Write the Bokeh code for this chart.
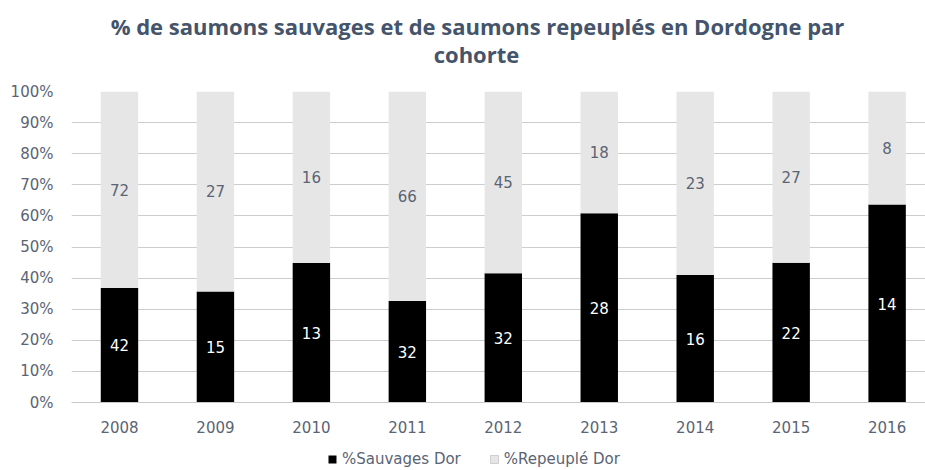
from bokeh.plotting import figure
from bokeh.layouts import column
from bokeh.models import ColumnDataSource, Range1d, Legend, LegendItem, FixedTicker
from bokeh.core.properties import value
from bokeh.embed import file_html
from bokeh.resources import INLINE

years = ["2008", "2009", "2010", "2011", "2012", "2013", "2014", "2015", "2016"]
sauvages = [42, 15, 13, 32, 32, 28, 16, 22, 14]
repeuples = [72, 27, 16, 66, 45, 18, 23, 27, 8]
y_ticks = [0, 10, 20, 30, 40, 50, 60, 70, 80, 90, 100]
title_lines = ["% de saumons sauvages et de saumons repeuplés en Dordogne par", "cohorte"]
series_names = ["%Sauvages Dor", "%Repeuplé Dor"]
colors = ["#000000", "#e6e6e6"]

xs = list(range(len(years)))
pct_s = [s / (s + r) * 100 for s, r in zip(sauvages, repeuples)]
pct_r = [100 - p for p in pct_s]

src = ColumnDataSource(dict(
    x=xs,
    s=pct_s,
    r=pct_r,
    s_mid=[p / 2 for p in pct_s],
    r_mid=[p + (100 - p) / 2 for p in pct_s],
    s_lab=[str(v) for v in sauvages],
    r_lab=[str(v) for v in repeuples],
))

TFONT = "Open Sans"
FONT = "DejaVu Sans"
TXT = "#5a6474"
LEFT = 71

# ---- title strip (screen-pixel coordinates) ----
TH = 81
tt = figure(width=925, height=TH, output_backend="svg", toolbar_location=None,
            x_range=Range1d(LEFT, 925), y_range=Range1d(TH, 0),
            min_border=0, outline_line_color=None)
tt.axis.visible = False
tt.grid.visible = False
tt.text(x=[477, 476], y=[25, 53], text=title_lines, text_font=value(TFONT),
        text_font_size="22px", text_font_style="bold", text_color="#44546a",
        text_align="center", text_baseline="alphabetic")

# ---- main chart ----
p = figure(width=925, height=354, output_backend="svg", toolbar_location=None,
           x_range=Range1d(-0.5, 8.4), y_range=Range1d(0, 100),
           min_border_left=LEFT, min_border_right=0, min_border_top=10, min_border_bottom=30,
           outline_line_color=None)

p.vbar_stack(["s", "r"], x="x", width=0.39, source=src, color=colors, line_color=None)

p.text(x="x", y="s_mid", text="s_lab", source=src, text_color="#ffffff",
       text_font=value(FONT), text_font_size="15px", text_align="center",
       text_baseline="middle")
p.text(x="x", y="r_mid", text="r_lab", source=src, text_color=TXT,
       text_font=value(FONT), text_font_size="15px", text_align="center",
       text_baseline="middle")

p.xgrid.grid_line_color = None
p.ygrid.grid_line_color = "#cdcdcd"
p.ygrid.grid_line_width = 1
p.ygrid.ticker = FixedTicker(ticks=y_ticks)
p.ygrid.level = "underlay"

p.yaxis.ticker = FixedTicker(ticks=y_ticks)
p.yaxis.major_label_overrides = {t: f"{t}%" for t in y_ticks}
p.yaxis.axis_line_color = None
p.yaxis.major_tick_line_color = None
p.yaxis.minor_tick_line_color = None
p.yaxis.major_label_standoff = 12
p.yaxis.major_label_text_font = FONT
p.yaxis.major_label_text_font_size = "15px"
p.yaxis.major_label_text_color = TXT

p.xaxis.ticker = FixedTicker(ticks=xs)
p.xaxis.major_label_overrides = {i: y for i, y in zip(xs, years)}
p.xaxis.axis_line_color = "#c8c8c8"
p.xaxis.major_tick_line_color = None
p.xaxis.minor_tick_line_color = None
p.xaxis.major_label_standoff = 12
p.xaxis.major_label_text_font = FONT
p.xaxis.major_label_text_font_size = "15px"
p.xaxis.major_label_text_color = TXT

# ---- legend strip ----
lg = figure(width=925, height=35, output_backend="svg", toolbar_location=None,
            x_range=Range1d(0, 1), y_range=Range1d(0, 1),
            min_border=0, outline_line_color=None)
lg.axis.visible = False
lg.grid.visible = False
items = []
for name, c in zip(series_names, colors):
    # swatch renderer kept outside the visible range; only its legend entry is seen
    rr = lg.quad(left=[5], right=[6], bottom=[5], top=[6], fill_color=c,
                 line_color="#cfcfcf" if c != "#000000" else None)
    items.append(LegendItem(label=name, renderers=[rr]))
legend = Legend(items=items, orientation="horizontal", location=(256, 2),
                label_text_font=FONT, label_text_font_size="15px",
                label_text_color=TXT, glyph_width=10, glyph_height=10,
                spacing=28, padding=0, margin=0, border_line_color=None,
                background_fill_alpha=0, label_standoff=5)
lg.add_layout(legend)

layout = column(tt, p, lg, spacing=0)
open("out.html", "w").write(file_html(layout, INLINE))
